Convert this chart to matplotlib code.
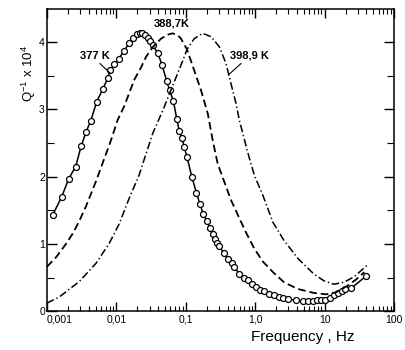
import numpy as np
import matplotlib.pyplot as plt
from matplotlib.ticker import FixedLocator, FixedFormatter, LogLocator, NullFormatter

plt.rcParams['font.family'] = ['Liberation Sans', 'DejaVu Sans']
plt.rcParams['mathtext.fontset'] = 'custom'
plt.rcParams['mathtext.rm'] = 'Liberation Sans'
plt.rcParams['mathtext.it'] = 'Liberation Sans:italic'
plt.rcParams['lines.scale_dashes'] = False

# 377 K : measured points (Hz, Q^-1 x 10^4)
f_377 = [0.00121, 0.00163, 0.00206, 0.00259, 0.00312, 0.00368, 0.00427, 0.00520,
         0.00635, 0.00750, 0.00817, 0.00933, 0.0108, 0.0127, 0.0152, 0.0175,
         0.0200, 0.0219, 0.0234, 0.0256, 0.0282, 0.0308, 0.0333, 0.0394,
         0.0454, 0.0531, 0.0586, 0.0661, 0.0740, 0.0805, 0.0881, 0.0951,
         0.104, 0.122, 0.142, 0.160, 0.179, 0.200, 0.223, 0.244,
         0.263, 0.281, 0.303, 0.352, 0.401, 0.458, 0.500, 0.590,
         0.682, 0.780, 0.891, 1.03, 1.19, 1.35, 1.60, 1.88,
         2.22, 2.49, 3.00, 3.87, 4.83, 5.70, 6.73, 7.76,
         8.87, 10.2, 12.1, 13.8, 15.7, 17.8, 19.7, 24.0, 39.5]
q_377 = [1.43, 1.70, 1.97, 2.15, 2.46, 2.67, 2.83, 3.11,
         3.30, 3.46, 3.58, 3.67, 3.75, 3.86, 3.98, 4.06,
         4.12, 4.14, 4.13, 4.11, 4.06, 4.01, 3.95, 3.84,
         3.66, 3.42, 3.28, 3.13, 2.86, 2.68, 2.57, 2.44,
         2.29, 2.00, 1.76, 1.59, 1.44, 1.34, 1.24, 1.15,
         1.07, 1.01, 0.97, 0.86, 0.78, 0.71, 0.66, 0.55,
         0.50, 0.46, 0.41, 0.36, 0.32, 0.30, 0.26, 0.24,
         0.21, 0.20, 0.18, 0.16, 0.15, 0.15, 0.15, 0.16,
         0.16, 0.17, 0.19, 0.24, 0.27, 0.30, 0.33, 0.34, 0.52]

# 388.7 K : dashed curve
f_388 = [0.00100, 0.00135, 0.00188, 0.00237, 0.00289, 0.00365, 0.00508, 0.00836,
         0.0104, 0.0130, 0.0181, 0.0226, 0.0267, 0.0337, 0.0439, 0.0548,
         0.0647, 0.0773, 0.0853, 0.104, 0.132, 0.166, 0.207, 0.244,
         0.288, 0.448, 0.610, 0.736, 0.970, 1.28, 1.80, 2.60,
         4.09, 7.03, 10.5, 14.6, 21.5, 28.3, 37.3]
q_388 = [0.66, 0.80, 1.00, 1.16, 1.33, 1.56, 1.93, 2.54,
         2.84, 3.05, 3.44, 3.62, 3.78, 3.93, 4.05, 4.11,
         4.13, 4.10, 4.05, 3.89, 3.58, 3.28, 2.94, 2.54,
         2.19, 1.65, 1.35, 1.17, 0.93, 0.74, 0.58, 0.43,
         0.33, 0.27, 0.25, 0.28, 0.38, 0.47, 0.58]

# 398.9 K : dash-dot curve
f_398 = [0.00100, 0.00150, 0.00292, 0.00508, 0.00791, 0.0110, 0.0153, 0.0212,
         0.0333, 0.0469, 0.0682, 0.0901, 0.104, 0.132, 0.175, 0.231,
         0.304, 0.380, 0.448, 0.528, 0.590, 0.780, 0.970, 1.29,
         1.80, 2.60, 4.14, 7.03, 9.80, 13.6, 19.0, 26.5, 40.8]
q_398 = [0.12, 0.21, 0.44, 0.71, 1.01, 1.30, 1.68, 2.02,
         2.64, 2.99, 3.41, 3.72, 3.89, 4.05, 4.13, 4.08,
         3.93, 3.68, 3.38, 3.09, 2.84, 2.36, 2.02, 1.72,
         1.32, 1.05, 0.78, 0.55, 0.45, 0.40, 0.43, 0.51, 0.68]

xticks = [0.001, 0.01, 0.1, 1.0, 10, 100]
xtick_labels = ['0,001', '0,01', '0,1', '1,0', '10', '100']

fig = plt.figure(figsize=(4.05, 3.5), dpi=100)
ax = fig.add_axes([0.116, 0.111, 0.857, 0.863])

ax.plot(f_377, q_377, color='black', lw=1.1, marker='o', ms=4.3,
        mfc='white', mec='black', mew=0.9)
ax.plot(f_388, q_388, color='black', lw=1.3, dashes=(5.5, 2.8))
ax.plot(f_398, q_398, color='black', lw=1.1, dashes=(5.5, 2, 1, 2))

ax.set_xscale('log')
ax.set_xlim(1e-3, 100)
ax.set_ylim(0, 4.49)

ax.xaxis.set_major_locator(FixedLocator(xticks))
ax.xaxis.set_major_formatter(FixedFormatter(xtick_labels))
ax.xaxis.set_minor_locator(LogLocator(base=10, subs=np.arange(2, 10)))
ax.xaxis.set_minor_formatter(NullFormatter())
ax.set_yticks([0, 1, 2, 3, 4])
ax.set_yticks([0.5, 1.5, 2.5, 3.5], minor=True)

ax.tick_params(axis='x', which='major', direction='in', top=True, length=6.5,
               width=1, labelsize=7.5, pad=2.5)
ax.tick_params(axis='x', which='minor', direction='in', top=True, length=3.5, width=0.8)
ax.tick_params(axis='y', which='major', direction='in', right=True, length=7.5,
               width=1, labelsize=7.5, pad=1.5)
ax.tick_params(axis='y', which='minor', direction='in', right=True, length=5, width=0.8)
ax.get_xticklabels()[0].set_horizontalalignment('left')

for s in ax.spines.values():
    s.set_linewidth(1.1)

ax.text(0.0049, 3.80, '377 K', fontsize=8, fontweight='bold', ha='center', va='center')
ax.plot([0.0058, 0.0081], [3.68, 3.54], color='black', lw=0.8)
ax.text(0.0632, 4.28, '388,7K', fontsize=8, fontweight='bold', ha='center', va='center')
ax.text(0.815, 3.80, '398,9 K', fontsize=8, fontweight='bold', ha='center', va='center')
ax.plot([0.624, 0.409], [3.68, 3.51], color='black', lw=0.8)

fig.text(0.072, 0.79, 'Q$^{-1}$ x 10$^{4}$', rotation=90, fontsize=9.5,
         ha='center', va='center')
fig.text(0.748, 0.037, 'Frequency , Hz', fontsize=11, ha='center', va='center')

fig.savefig('out.png', dpi=100)
